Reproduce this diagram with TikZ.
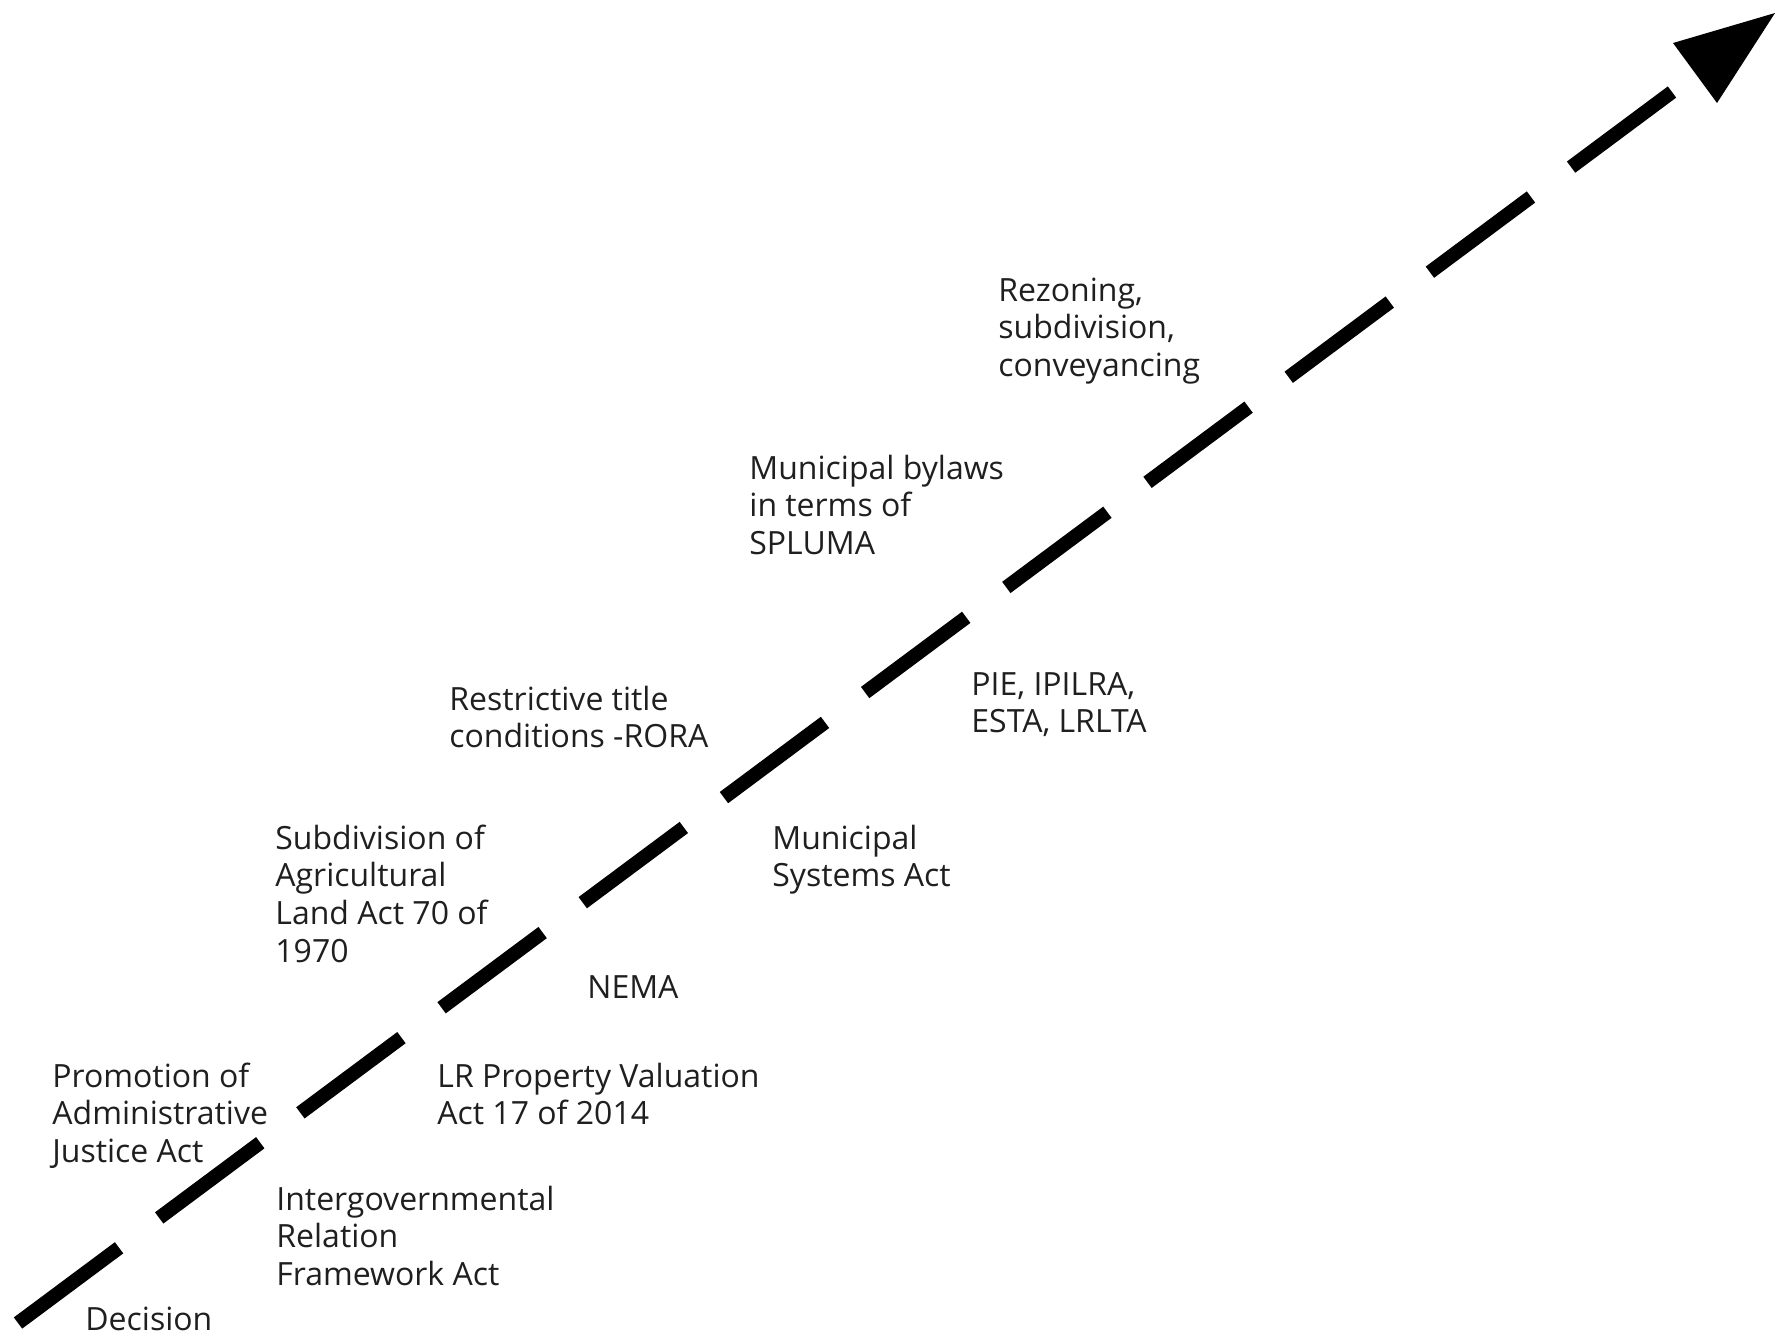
\documentclass[tikz,border=0pt]{standalone}
\usepackage{fontspec}
\setmainfont{Open Sans}
\begin{document}
\begin{tikzpicture}[x=0.5pt,y=-0.5pt,
  lbl/.style={anchor=base west, align=left, inner sep=0pt, font=\fontsize{16}{18.9}\selectfont, text=black!88},
  timeline/.style={line width=7pt, dash pattern=on 63pt off 25pt},
  headtip/.style={fill=black}]
\useasboundingbox (0,0) rectangle (1781,1340);
\coordinate (start) at (18,1323);
\coordinate (end) at (1672,92);
\draw[timeline] (start) -- (end);
\coordinate (tip) at (1775,13);
\coordinate (bl) at (1673,43);
\coordinate (br) at (1717,103);
\fill[headtip] (bl) -- (tip) -- (br) -- cycle;

% anchors are at the baseline of the last line
\node[lbl] (decision) at (85,1330) {Decision};
\node[lbl] (paja) at (52,1162.6) {Promotion of\\Administrative\\Justice Act};
\node[lbl] (irfa) at (276,1285.6) {Intergovernmental\\Relation\\Framework Act};
\node[lbl] (lrpv) at (437,1124.8) {LR Property Valuation\\Act 17 of 2014};
\node[lbl] (nema) at (587,998) {NEMA};
\node[lbl] (sala) at (275,962.4) {Subdivision of\\Agricultural\\Land Act 70 of\\1970};
\node[lbl] (rora) at (449,747.8) {Restrictive title\\conditions -RORA};
\node[lbl] (msa) at (772,886.8) {Municipal\\Systems Act};
\node[lbl] (pie) at (971,732.8) {PIE, IPILRA,\\ESTA, LRLTA};
\node[lbl] (bylaws) at (749,554.6) {Municipal bylaws\\in terms of\\SPLUMA};
\node[lbl] (rezone) at (998,376.6) {Rezoning,\\subdivision,\\conveyancing};
\end{tikzpicture}
\end{document}
